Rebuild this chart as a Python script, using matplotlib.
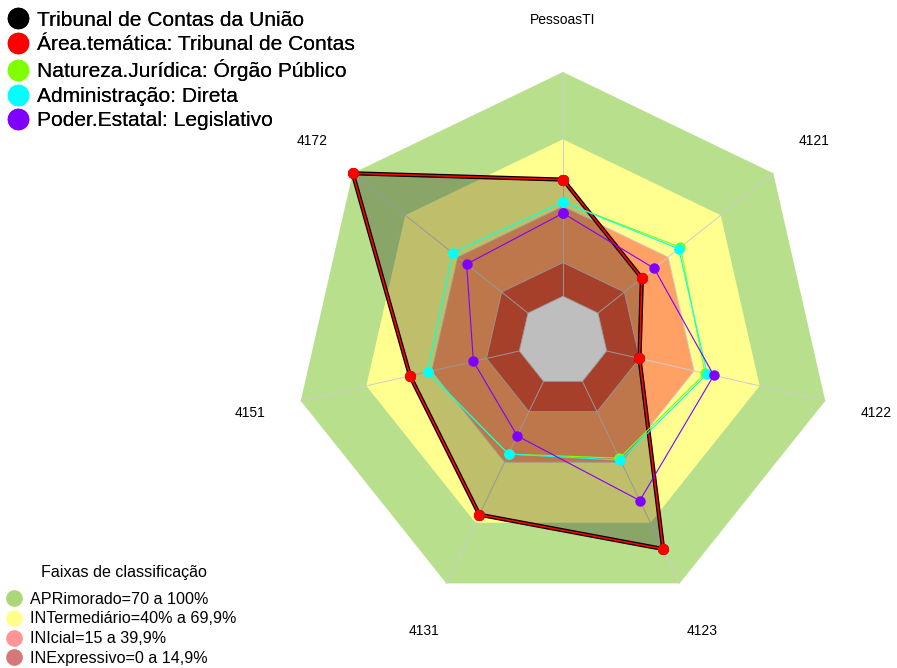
import numpy as np
import matplotlib
matplotlib.use("Agg")
import matplotlib.pyplot as plt
from matplotlib.lines import Line2D

plt.rcParams["font.family"] = ["Liberation Sans", "DejaVu Sans"]

# Radar axes, clockwise from the top
axis_labels = ["PessoasTI", "4121", "4122", "4123", "4131", "4151", "4172"]

# Scores in percent (0-100) per axis
tcu = [52, 25, 15, 83, 66, 50, 100]
area_tematica = [52, 25, 15, 83, 66, 50, 100]
natureza = [42, 47, 45, 38, 36, 42, 43]
administracao = [42, 46, 46, 39, 36, 42, 43]
poder = [37, 32, 49, 59, 27, 21, 35]

series_names = [
    "Tribunal de Contas da União",
    "Área.temática: Tribunal de Contas",
    "Natureza.Jurídica: Órgão Público",
    "Administração: Direta",
    "Poder.Estatal: Legislativo",
]
series_colors = ["#000000", "#FF0000", "#7FFF00", "#00FFFF", "#8000FF"]

# Classification bands (upper limit, fill colour, legend colour, label)
band_limits = [100, 70, 40, 15]
band_fill = ["#B8E08C", "#FFFF90", "#FFA064", "#E1563A"]
band_legend = ["#AAD778", "#FFFF8C", "#FF9696", "#D77878"]
band_labels = [
    "APRimorado=70 a 100%",
    "INTermediário=40% a 69,9%",
    "INIcial=15 a 39,9%",
    "INExpressivo=0 a 14,9%",
]

n_axes = len(axis_labels)
theta = np.deg2rad(90 - np.arange(n_axes) * 360 / n_axes)


def to_radius(values):
    # value 0 sits on an inner ring of radius 1/6, 100 on the outer ring
    return 1 / 6 + 5 / 6 * np.asarray(values, dtype=float) / 100


def polygon(values):
    r = to_radius(values)
    x = r * np.cos(theta)
    y = r * np.sin(theta)
    return np.append(x, x[0]), np.append(y, y[0])


fig = plt.figure(figsize=(8.97, 6.68), dpi=100)
ax = fig.add_axes([0, 0, 1, 1])
ax.set_xlim(-563 / 269, (897 - 563) / 269)
ax.set_ylim(-(668 - 341) / 269, 341 / 269)
ax.axis("off")

# bands, outermost first
for limit, color in zip(band_limits, band_fill):
    px, py = polygon([limit] * n_axes)
    ax.fill(px, py, color=color, lw=0, zorder=1)
px, py = polygon([0] * n_axes)
ax.fill(px, py, color="white", lw=0, zorder=1)

# grid: ring outlines and spokes
grid_color = "#CDCDCD"
for limit in [0, 15, 40]:
    px, py = polygon([limit] * n_axes)
    ax.plot(px, py, color=grid_color, lw=0.6, zorder=2)
r0, r1 = to_radius(0), to_radius(100)
for t in theta:
    ax.plot([r0 * np.cos(t), r1 * np.cos(t)], [r0 * np.sin(t), r1 * np.sin(t)],
            color=grid_color, lw=0.7, zorder=2)

# axis labels
for t, label in zip(theta, axis_labels):
    ax.text(1.195 * np.cos(t), 1.195 * np.sin(t), label, ha="center", va="center",
            fontsize=10, color="black", zorder=5)

# series
px, py = polygon(tcu)
ax.fill(px, py, color="black", alpha=0.255, lw=0, zorder=3)
ax.plot(px, py, color="black", lw=3, marker="o", ms=7, zorder=4)
px, py = polygon(area_tematica)
ax.plot(px, py, color="#FF0000", lw=1.2, marker="o", ms=7, zorder=4.1)
for values, color, z in [(natureza, "#7FFF00", 4.2), (administracao, "#00FFFF", 4.3),
                         (poder, "#8000FF", 4.4)]:
    px, py = polygon(values)
    ax.plot(px, py, color=color, lw=0.8, marker="o", ms=6.5, zorder=z)

# legends
handles = [Line2D([], [], ls="none", marker="o", ms=14.5, color=c) for c in series_colors]
leg1 = fig.legend(handles, series_names, loc="upper left", bbox_to_anchor=(0.0, 0.9955),
                  frameon=False, fontsize=15.1, handlelength=1.0, handletextpad=0.4,
                  labelspacing=0.26, borderpad=0.2, borderaxespad=0.16)
fig.add_artist(leg1)

fig.text(124 / 897, 1 - 572 / 668, "Faixas de classificação", ha="center", va="center",
         fontsize=11.6)
band_handles = [Line2D([], [], ls="none", marker="o", ms=11, color=c, markeredgecolor=c)
                for c in band_legend]
leg2 = fig.legend(band_handles, band_labels, loc="lower left", bbox_to_anchor=(0.0, -0.006),
                  frameon=False, fontsize=11.6, handlelength=1.0, handletextpad=0.49,
                  labelspacing=0.3, borderpad=0.2, borderaxespad=0.17)

fig.savefig("out.png", dpi=100)
